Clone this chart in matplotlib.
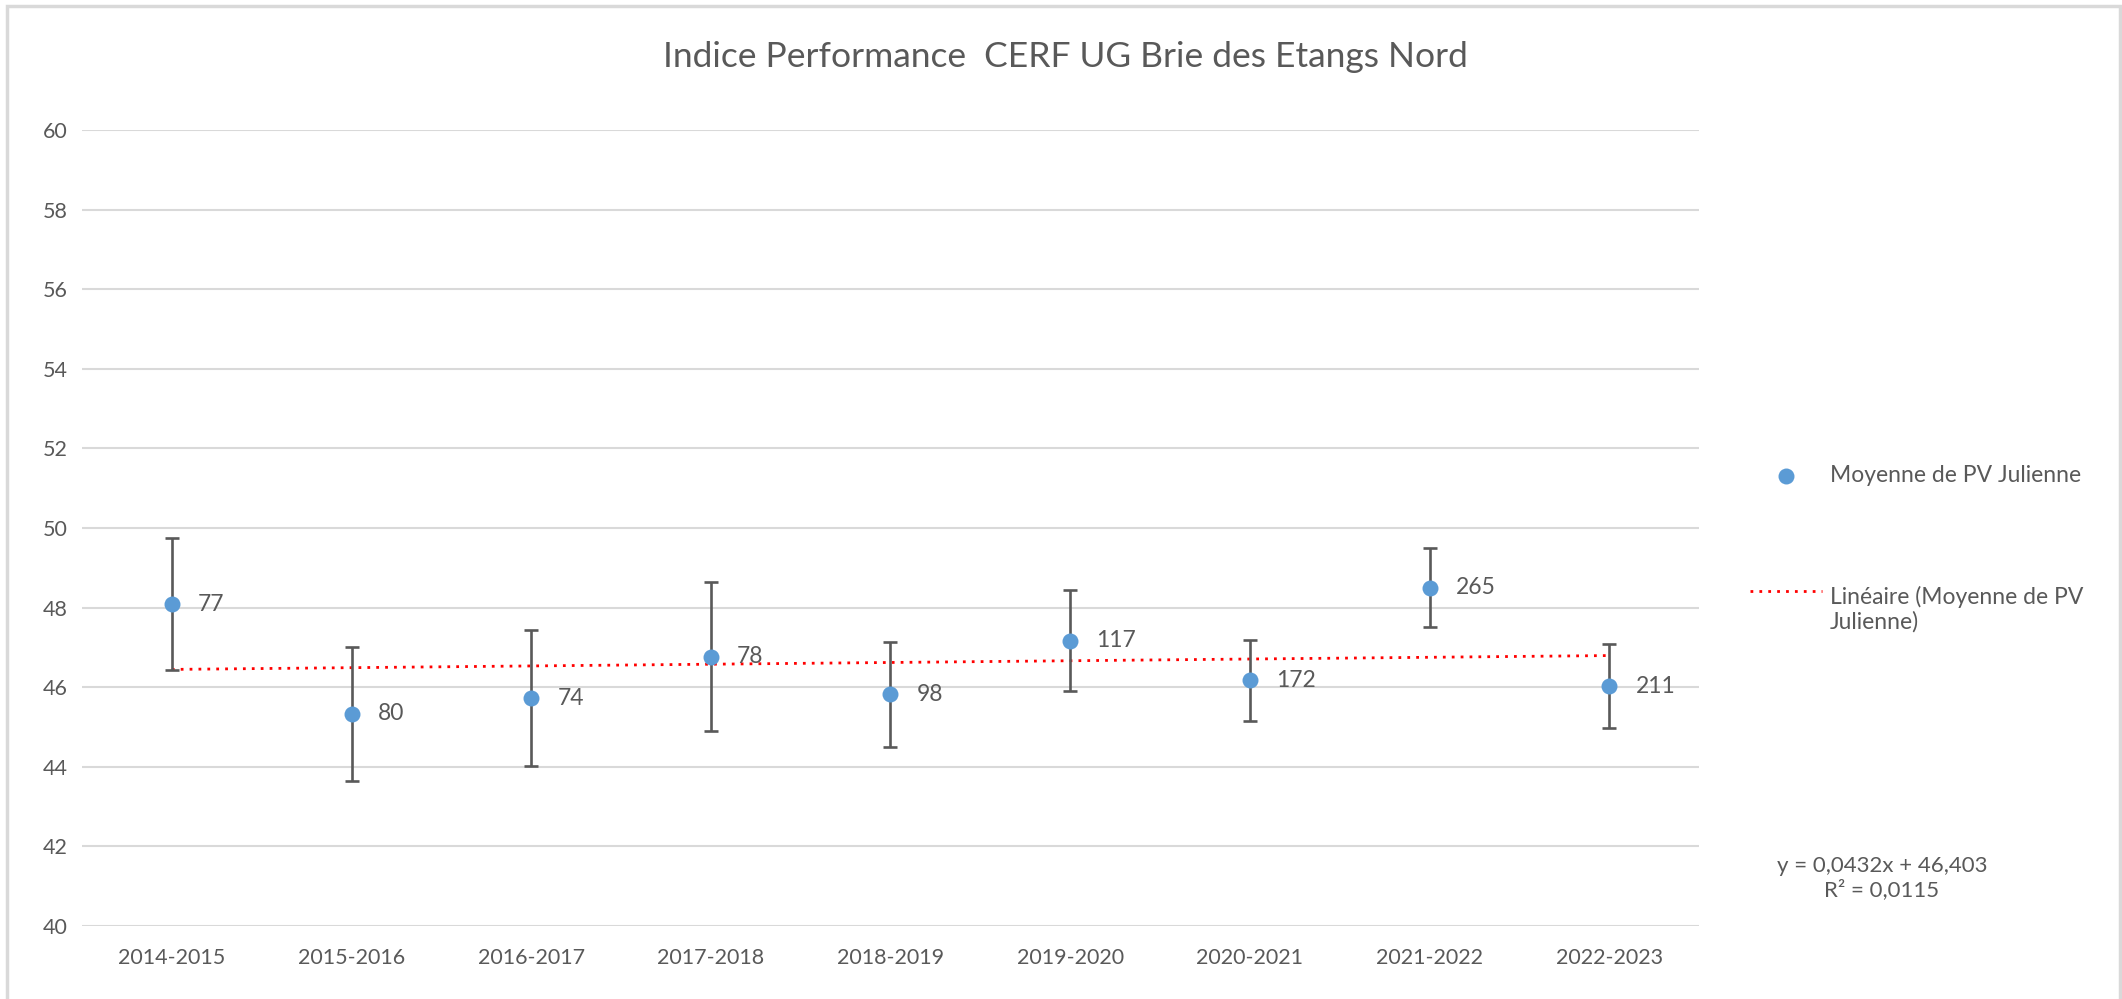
import matplotlib
matplotlib.use("Agg")
import matplotlib.pyplot as plt
from matplotlib.patches import Rectangle
import numpy as np

plt.rcParams['font.family'] = ['Lato', 'DejaVu Sans']

seasons = ["2014-2015", "2015-2016", "2016-2017", "2017-2018", "2018-2019",
           "2019-2020", "2020-2021", "2021-2022", "2022-2023"]
means = [48.08, 45.33, 45.72, 46.77, 45.82, 47.17, 46.17, 48.50, 46.03]
errors = [1.66, 1.68, 1.71, 1.87, 1.31, 1.27, 1.02, 0.99, 1.05]
counts = [77, 80, 74, 78, 98, 117, 172, 265, 211]
yticks = [40, 42, 44, 46, 48, 50, 52, 54, 56, 58, 60]

title = "Indice Performance  CERF UG Brie des Etangs Nord"
series_label = "Moyenne de PV Julienne"
trend_label = "Linéaire (Moyenne de PV\nJulienne)"
equation = "y = 0,0432x + 46,403\nR² = 0,0115"

TXT = "#595959"
BLUE = "#5B9BD5"
GRID = "#D9D9D9"

W, H = 2122, 999
fig = plt.figure(figsize=(W / 100, H / 100), dpi=100)
fig.patch.set_facecolor("white")

ax = fig.add_axes([82 / W, 1 - 926 / H, (1699 - 82) / W, (926 - 130) / H])
x = np.arange(1, len(seasons) + 1)

ax.set_xlim(0.5, len(seasons) + 0.5)
ax.set_ylim(40, 60)
ax.set_yticks(yticks)
ax.set_xticks(x)
ax.set_xticklabels(seasons)
ax.grid(axis="y", color=GRID, linewidth=1.5)
ax.set_axisbelow(True)
for s in ax.spines.values():
    s.set_visible(False)
ax.tick_params(axis="both", length=0, labelsize=15.5, colors=TXT)
ax.tick_params(axis="x", pad=16)
ax.tick_params(axis="y", pad=10)

# trend line
coef = np.polyfit(x, means, 1)
ax.plot([x[0], x[-1]], np.polyval(coef, [x[0], x[-1]]), color="#FF0000",
        linewidth=2.0, linestyle=(0, (1, 2.2)), zorder=2)

ax.errorbar(x, means, yerr=errors, fmt="none", ecolor="#595959",
            elinewidth=1.9, capsize=5, capthick=1.9, zorder=3)
ax.plot(x, means, "o", color=BLUE, markersize=11.5, markeredgewidth=0, zorder=4)

for xi, m, c in zip(x, means, counts):
    ax.annotate(str(c), (xi, m), xytext=(19, 0), textcoords="offset points",
                ha="left", va="center", fontsize=16.5, color=TXT, zorder=5)

fig.text(0.5 * (659 + 1471) / W, 1 - 57 / H, title, ha="center", va="center",
         fontsize=25.5, color=TXT)

# legend (drawn manually to match Excel placement)
fig.lines.append(plt.Line2D([1786 / W], [1 - 476 / H], marker="o", color=BLUE,
                            markersize=11.5, markeredgewidth=0, linestyle="none",
                            transform=fig.transFigure))
fig.text(1830 / W, 1 - 476 / H, series_label, ha="left", va="center",
         fontsize=16.5, color=TXT)
fig.lines.append(plt.Line2D([1750 / W, 1822 / W], [1 - 591 / H, 1 - 591 / H],
                            color="#FF0000", linewidth=2.0,
                            linestyle=(0, (1, 2.2)), transform=fig.transFigure))
fig.text(1830 / W, 1 - 609 / H, trend_label, ha="left", va="center",
         fontsize=16.5, color=TXT, linespacing=1.2)

fig.text(1882 / W, 1 - 878 / H, equation, ha="center", va="center",
         fontsize=16, color=TXT, linespacing=1.2, multialignment="center")

# chart border
fig.patches.append(Rectangle((7 / W, -0.01), (2120 - 7) / W, 1.01 - 6 / H,
                             transform=fig.transFigure, fill=False,
                             edgecolor="#D9D9D9", linewidth=2.5))

fig.savefig("out.png", dpi=100)
